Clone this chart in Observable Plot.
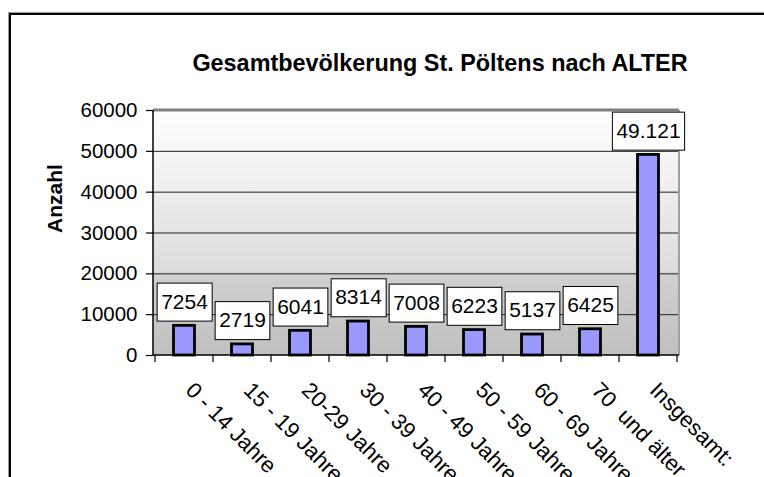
<!DOCTYPE html>
<html><head><meta charset="utf-8">
<script src="https://cdn.jsdelivr.net/npm/d3@7"></script>
<script src="https://cdn.jsdelivr.net/npm/@observablehq/plot@0.6"></script>
<style>
html,body{margin:0;padding:0;overflow:hidden;background:#fff;width:764px;height:477px}
#border{position:absolute;left:9px;top:13px;width:800px;height:520px;border-top:2px solid #000;border-left:2px solid #000;box-shadow:-1px -1px 0 #999}
#chart{position:absolute;left:0;top:0}
svg text{white-space:pre}
</style></head><body>
<div id="border"></div><div id="chart"></div>
<script>
const title = "Gesamtbevölkerung St. Pöltens nach ALTER";
const yTitle = "Anzahl";
const categories = ["0 - 14 Jahre","15 - 19 Jahre","20-29 Jahre","30 - 39 Jahre","40 - 49 Jahre","50 - 59 Jahre","60 - 69 Jahre","70  und älter","Insgesamt:"];
const values = [7254,2719,6041,8314,7008,6223,5137,6425,49121];
const valueLabels = ["7254","2719","6041","8314","7008","6223","5137","6425","49.121"];
const yTicks = [0,10000,20000,30000,40000,50000,60000];

const W = 764, H = 477, mL = 153, mR = 85, mT = 110, mB = 122;
const data = categories.map((c, i) => ({cat: c, value: values[i], label: valueLabels[i]}));
const bw = (W - mL - mR) / categories.length;
const FONT = "'Liberation Sans', Arial, sans-serif";

function frameBox(d) {
  return {x0: d.marginLeft, x1: d.width - d.marginRight, y0: d.marginTop, y1: d.height - d.marginBottom};
}
const wallBg = (index, scales, values, dim) => {
  const f = frameBox(dim);
  const g = d3.create("svg:g");
  const lg = g.append("defs").append("linearGradient").attr("id", "wallGrad")
    .attr("x1", 0).attr("y1", 0).attr("x2", 0).attr("y2", 1);
  lg.append("stop").attr("offset", "0%").attr("stop-color", "#ffffff");
  lg.append("stop").attr("offset", "66%").attr("stop-color", "#dcdcdc");
  lg.append("stop").attr("offset", "67%").attr("stop-color", "#d0d0d0");
  lg.append("stop").attr("offset", "100%").attr("stop-color", "#c0c0c0");
  g.append("rect").attr("x", f.x0).attr("y", f.y0).attr("width", f.x1 - f.x0).attr("height", f.y1 - f.y0)
    .attr("fill", "url(#wallGrad)");
  return g.node();
};
const wallLines = (index, scales, values, dim) => {
  const f = frameBox(dim);
  const g = d3.create("svg:g");
  g.append("line").attr("x1", f.x0).attr("x2", f.x1).attr("y1", f.y0).attr("y2", f.y0).attr("stroke", "#808080").attr("stroke-width", 3);
  g.append("line").attr("x1", f.x1).attr("x2", f.x1).attr("y1", f.y0).attr("y2", f.y1).attr("stroke", "#a0a0a0").attr("stroke-width", 2);
  g.append("line").attr("x1", f.x0).attr("x2", f.x0).attr("y1", f.y0).attr("y2", f.y1).attr("stroke", "#000").attr("stroke-width", 1.5);
  g.append("line").attr("x1", f.x0).attr("x2", f.x1).attr("y1", f.y1).attr("y2", f.y1).attr("stroke", "#000").attr("stroke-width", 1.5);
  return g.node();
};
const xBoundaryTicks = (index, scales, values, dim) => {
  const f = frameBox(dim);
  const x = scales.x;
  const b = x.bandwidth ? x.bandwidth() : bw;
  const pos = categories.map(c => x(c));
  pos.push(x(categories[categories.length - 1]) + b);
  const g = d3.create("svg:g");
  g.selectAll("line").data(pos).join("line")
    .attr("x1", d => d).attr("x2", d => d).attr("y1", f.y1).attr("y2", f.y1 + 7)
    .attr("stroke", "#000").attr("stroke-width", 1.2);
  return g.node();
};

const svg = Plot.plot({
  width: W, height: H,
  marginLeft: mL, marginRight: mR, marginTop: mT, marginBottom: mB,
  style: {fontFamily: FONT, fontSize: "20px", background: "transparent", color: "#000", overflow: "visible"},
  x: {type: "band", domain: categories, padding: 0, axis: null},
  y: {domain: [0, 60000], axis: null},
  marks: [
    wallBg,
    Plot.ruleY(yTicks.filter(t => t > 0 && t < 60000), {stroke: "#222", strokeWidth: 1}),
    wallLines,
    Plot.axisY({ticks: yTicks, tickSize: 7, tickPadding: 9, fontSize: 20.5, tickFormat: d3.format("d"), label: null, stroke: "#000", strokeWidth: 1.2}),
    xBoundaryTicks,
    Plot.barY(data, {x: "cat", y: "value", fill: "#9999ff", stroke: "#000", strokeWidth: 2.8, insetLeft: 18.5, insetRight: 18.5}),
    Plot.text(data, {x: "cat", y: "value", text: "label", dy: -24, lineAnchor: "middle", fontSize: 21, fill: "#000"}),
    Plot.text(categories, {x: d => d, frameAnchor: "bottom", rotate: 45, textAnchor: "start", lineAnchor: "top", dx: 11, dy: 25, fontSize: 22, fill: "#000"}),
    Plot.text([yTitle], {frameAnchor: "left", dx: -(mL - 54.5), rotate: -90, fontWeight: "bold", fontSize: 21, fill: "#000"}),
    Plot.text([title], {frameAnchor: "top", dx: 23.5, dy: -40, lineAnchor: "bottom", fontWeight: "bold", fontSize: 23.4, fill: "#000"})
  ]
});
document.getElementById("chart").appendChild(svg);

const labelSet = new Set(valueLabels);
Array.from(svg.querySelectorAll("text")).filter(t => labelSet.has(t.textContent)).forEach(function(t) {
  const b = t.getBBox();
  const r = document.createElementNS("http://www.w3.org/2000/svg", "rect");
  const h = 38, w = b.width + 8;
  const cx = b.x + b.width / 2, cy = b.y + b.height / 2 + 1;
  r.setAttribute("x", cx - w / 2);
  r.setAttribute("y", cy - h / 2);
  r.setAttribute("width", w);
  r.setAttribute("height", h);
  r.setAttribute("fill", "#fff");
  r.setAttribute("stroke", "#000");
  r.setAttribute("stroke-width", 1);
  const tr = t.getAttribute("transform");
  if (tr) r.setAttribute("transform", tr);
  t.parentNode.insertBefore(r, t);
});
</script>
</body></html>
